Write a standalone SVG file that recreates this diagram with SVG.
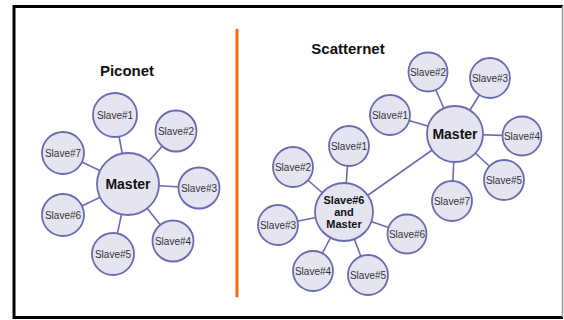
<svg xmlns="http://www.w3.org/2000/svg" width="564" height="320" viewBox="0 0 564 320">
<style>
.n{fill:#e5e5f1;stroke:#6b6bb0;stroke-width:1.8}
.e{stroke:#6b6bb0;stroke-width:1.6;fill:none}
.s{font-family:"Liberation Sans",Arial,sans-serif;font-size:10px;fill:#333;text-anchor:middle}
.m{font-family:"Liberation Sans",Arial,sans-serif;font-size:14px;font-weight:bold;fill:#111;text-anchor:middle}
.m2{font-family:"Liberation Sans",Arial,sans-serif;font-size:11px;font-weight:bold;fill:#111;text-anchor:middle}
.t{font-family:"Liberation Sans",Arial,sans-serif;font-size:15px;font-weight:bold;fill:#111;text-anchor:middle}
</style>
<rect width="564" height="320" fill="#fff"/>
<g id="frame">
<line x1="14" y1="6.5" x2="563" y2="6.5" stroke="#000" stroke-width="3"/>
<line x1="14" y1="5" x2="14" y2="319" stroke="#000" stroke-width="3"/>
<line x1="14" y1="317.5" x2="563" y2="317.5" stroke="#000" stroke-width="3"/>
<line x1="562.5" y1="6" x2="562.5" y2="317" stroke="#999" stroke-width="1.5"/>
<line x1="237" y1="30" x2="237" y2="296" stroke="#f26a10" stroke-width="3" stroke-linecap="round"/>
</g>
<text class="t" x="127" y="76">Piconet</text>
<text class="t" x="348" y="54">Scatternet</text>
<g id="connectors">
<line class="e" x1="128" y1="184" x2="115" y2="115"/>
<line class="e" x1="128" y1="184" x2="176" y2="131"/>
<line class="e" x1="128" y1="184" x2="63" y2="153"/>
<line class="e" x1="128" y1="184" x2="199" y2="188"/>
<line class="e" x1="128" y1="184" x2="63" y2="215"/>
<line class="e" x1="128" y1="184" x2="173" y2="241"/>
<line class="e" x1="128" y1="184" x2="113" y2="254"/>
<line class="e" x1="455" y1="134" x2="428" y2="72"/>
<line class="e" x1="455" y1="134" x2="490" y2="78"/>
<line class="e" x1="455" y1="134" x2="390" y2="115"/>
<line class="e" x1="455" y1="134" x2="522" y2="136"/>
<line class="e" x1="455" y1="134" x2="504" y2="180"/>
<line class="e" x1="455" y1="134" x2="452" y2="201"/>
<line class="e" x1="455" y1="134" x2="344" y2="212"/>
<line class="e" x1="344" y1="212" x2="349" y2="146"/>
<line class="e" x1="344" y1="212" x2="293" y2="167"/>
<line class="e" x1="344" y1="212" x2="278" y2="225"/>
<line class="e" x1="344" y1="212" x2="407" y2="234"/>
<line class="e" x1="344" y1="212" x2="313" y2="271"/>
<line class="e" x1="344" y1="212" x2="368" y2="275"/>
</g>
<g id="p-master"><circle class="n" cx="128" cy="184" r="31"/><text class="m" x="128" y="189">Master</text></g>
<g id="p-slave1"><circle class="n" cx="115" cy="115" r="22"/><text class="s" x="115" y="119">Slave#1</text></g>
<g id="p-slave2"><circle class="n" cx="176" cy="131" r="20.5"/><text class="s" x="176" y="135">Slave#2</text></g>
<g id="p-slave3"><circle class="n" cx="199" cy="188" r="20.5"/><text class="s" x="199" y="192">Slave#3</text></g>
<g id="p-slave4"><circle class="n" cx="173" cy="241" r="20.5"/><text class="s" x="173" y="245">Slave#4</text></g>
<g id="p-slave5"><circle class="n" cx="113" cy="254" r="21"/><text class="s" x="113" y="258">Slave#5</text></g>
<g id="p-slave6"><circle class="n" cx="63" cy="215" r="21"/><text class="s" x="63" y="219">Slave#6</text></g>
<g id="p-slave7"><circle class="n" cx="63" cy="153" r="21"/><text class="s" x="63" y="157">Slave#7</text></g>
<g id="s-master"><circle class="n" cx="455" cy="134" r="28"/><text class="m" x="455" y="139">Master</text></g>
<g id="s-slave1"><circle class="n" cx="390" cy="115" r="20"/><text class="s" x="390" y="119">Slave#1</text></g>
<g id="s-slave2"><circle class="n" cx="428" cy="72" r="19.5"/><text class="s" x="428" y="76">Slave#2</text></g>
<g id="s-slave3"><circle class="n" cx="490" cy="78" r="20"/><text class="s" x="490" y="82">Slave#3</text></g>
<g id="s-slave4"><circle class="n" cx="522" cy="136" r="19.5"/><text class="s" x="522" y="140">Slave#4</text></g>
<g id="s-slave5"><circle class="n" cx="504" cy="180" r="20"/><text class="s" x="504" y="184">Slave#5</text></g>
<g id="s-slave7"><circle class="n" cx="452" cy="201" r="20"/><text class="s" x="452" y="205">Slave#7</text></g>
<g id="s-master2"><circle class="n" cx="344" cy="212" r="29"/><text class="m2" x="344" y="204">Slave#6</text><text class="m2" x="344" y="216">and</text><text class="m2" x="344" y="228">Master</text></g>
<g id="s2-slave1"><circle class="n" cx="349" cy="146" r="20"/><text class="s" x="349" y="150">Slave#1</text></g>
<g id="s2-slave2"><circle class="n" cx="293" cy="167" r="20"/><text class="s" x="293" y="171">Slave#2</text></g>
<g id="s2-slave3"><circle class="n" cx="278" cy="225" r="20"/><text class="s" x="278" y="229">Slave#3</text></g>
<g id="s2-slave4"><circle class="n" cx="313" cy="271" r="20"/><text class="s" x="313" y="275">Slave#4</text></g>
<g id="s2-slave5"><circle class="n" cx="368" cy="275" r="20"/><text class="s" x="368" y="279">Slave#5</text></g>
<g id="s2-slave6"><circle class="n" cx="407" cy="234" r="19.5"/><text class="s" x="407" y="238">Slave#6</text></g>
</svg>
